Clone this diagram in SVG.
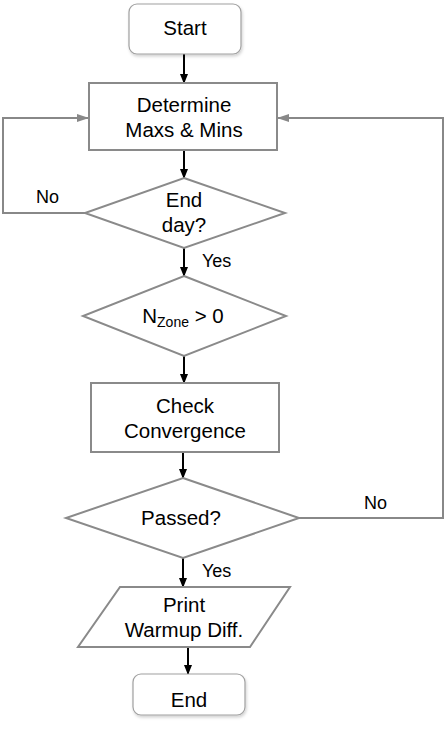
<svg xmlns="http://www.w3.org/2000/svg" width="446" height="738" viewBox="0 0 446 738">
<style>
text{font-family:"Liberation Sans",Arial,sans-serif;font-size:20.5px;fill:#000;text-anchor:middle}
.lbl{font-size:18px;text-anchor:start}
.shape{fill:#fff;stroke:#8a8a8a;stroke-width:2}
.term{fill:#fff;stroke:#a0a0a0;stroke-width:1.2;filter:url(#sh)}
.flow{fill:none;stroke:#000;stroke-width:2;marker-end:url(#ab)}
.loop{fill:none;stroke:#888;stroke-width:2;marker-end:url(#ag)}
</style>
<defs>
<filter id="sh" x="-20%" y="-20%" width="140%" height="150%">
<feDropShadow dx="1" dy="2" stdDeviation="1.5" flood-color="#000" flood-opacity="0.18"/>
</filter>
<marker id="ab" markerWidth="10" markerHeight="8" refX="9" refY="4" orient="auto" markerUnits="userSpaceOnUse">
<path d="M0,0 L10,4 L0,8 Z" fill="#000"/>
</marker>
<marker id="ag" markerWidth="12" markerHeight="8" refX="12" refY="4" orient="auto" markerUnits="userSpaceOnUse">
<path d="M0,0 L12,4 L0,8 Z" fill="#888"/>
</marker>
</defs>
<g id="connectors">
<line class="flow" x1="184" y1="54" x2="184" y2="83"/>
<line class="flow" x1="184" y1="150" x2="184" y2="178"/>
<line class="flow" x1="184" y1="248" x2="184" y2="276"/>
<line class="flow" x1="184" y1="356" x2="184" y2="383"/>
<line class="flow" x1="183" y1="452" x2="183" y2="478"/>
<line class="flow" x1="183" y1="558" x2="183" y2="587"/>
<line class="flow" x1="188" y1="647" x2="188" y2="674"/>
<polyline class="loop" points="85,213 3,213 3,118 89,118"/>
<polyline class="loop" points="299,518 443,518 443,118 277,118"/>
<text class="lbl" x="36" y="203">No</text>
<text class="lbl" x="202" y="267">Yes</text>
<text class="lbl" x="364" y="509">No</text>
<text class="lbl" x="202" y="577">Yes</text>
</g>
<g id="start">
<rect class="term" x="129" y="4" width="112" height="50" rx="8"/>
<text x="185" y="35">Start</text>
</g>
<g id="determine">
<rect class="shape" x="89" y="83" width="188" height="67"/>
<text x="184" y="112">Determine</text>
<text x="184" y="137">Maxs &amp; Mins</text>
</g>
<g id="endday">
<polygon class="shape" points="184,178 285,213 184,248 85,213"/>
<text x="184" y="207">End</text>
<text x="184" y="232">day?</text>
</g>
<g id="nzone">
<polygon class="shape" points="184,276 286,316 184,356 83,316"/>
<text x="183" y="323">N<tspan font-size="14" dy="4">Zone</tspan><tspan dy="-4"> &gt; 0</tspan></text>
</g>
<g id="check">
<rect class="shape" x="91" y="383" width="188" height="69"/>
<text x="185" y="413">Check</text>
<text x="185" y="438">Convergence</text>
</g>
<g id="passed">
<polygon class="shape" points="183,478 299,518 183,558 66,518"/>
<text x="181" y="525">Passed?</text>
</g>
<g id="print">
<polygon class="shape" points="120,587 290,587 250,647 78,647"/>
<text x="184" y="612">Print</text>
<text x="184" y="637">Warmup Diff.</text>
</g>
<g id="end">
<rect class="term" x="133" y="674" width="112" height="41" rx="8"/>
<text x="189" y="707">End</text>
</g>
</svg>
